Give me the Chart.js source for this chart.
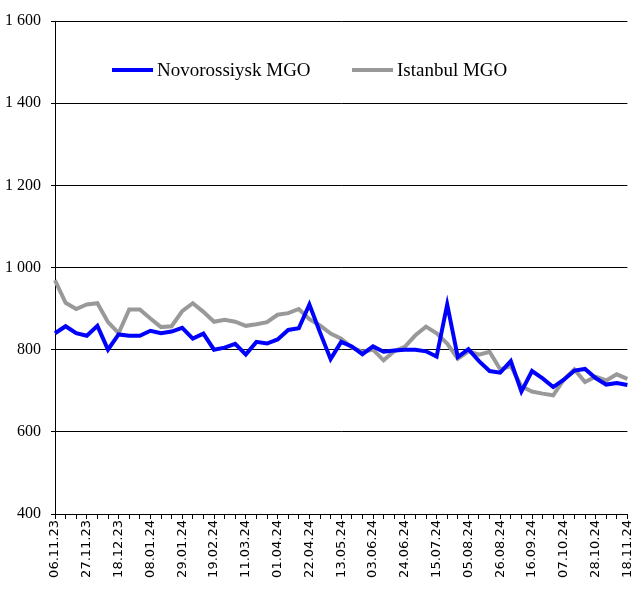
<!DOCTYPE html>
<html>
<head>
<meta charset="utf-8">
<script src="https://cdn.jsdelivr.net/npm/chart.js@4.4.1/dist/chart.umd.min.js"></script>
<style>
  body { margin: 0; background: #fff; }
  #wrap { position: relative; width: 644px; height: 595px; }
  #legend { position: absolute; top: 59px; left: 0; font-family: "Liberation Serif", "Times New Roman", serif; font-size: 19px; line-height: 22px; color: #000; }
  .item { position: absolute; white-space: nowrap; display: flex; align-items: center; height: 22px; }
  .swatch { display: inline-block; width: 41px; height: 4px; margin-right: 4px; }
</style>
</head>
<body>
<div id="wrap">
  <canvas id="chart"></canvas>
  <div id="legend"></div>
</div>
<script>
const dates = [
  "06.11.23", "13.11.23", "20.11.23", "27.11.23", "04.12.23", "11.12.23", "18.12.23",
  "25.12.23", "01.01.24", "08.01.24", "15.01.24", "22.01.24", "29.01.24", "05.02.24",
  "12.02.24", "19.02.24", "26.02.24", "04.03.24", "11.03.24", "18.03.24", "25.03.24",
  "01.04.24", "08.04.24", "15.04.24", "22.04.24", "29.04.24", "06.05.24", "13.05.24",
  "20.05.24", "27.05.24", "03.06.24", "10.06.24", "17.06.24", "24.06.24", "01.07.24",
  "08.07.24", "15.07.24", "22.07.24", "29.07.24", "05.08.24", "12.08.24", "19.08.24",
  "26.08.24", "02.09.24", "09.09.24", "16.09.24", "23.09.24", "30.09.24", "07.10.24",
  "14.10.24", "21.10.24", "28.10.24", "04.11.24", "11.11.24", "18.11.24"
];

const novorossiysk = [
  840, 857, 840, 834, 858, 800, 837, 834, 834, 846, 840, 844, 853, 827,
  839, 800, 805, 814, 788, 819, 815, 825, 848, 852, 910, 842, 777, 819,
  808, 789, 808, 795, 798, 800, 800, 796, 783, 910, 782, 801, 772, 748,
  744, 772, 698, 748, 730, 709, 727, 749, 753, 731, 715, 719, 714
];

const istanbul = [
  969, 914, 899, 910, 913, 867, 840, 898, 898, 876, 855, 857, 894, 913,
  892, 868, 873, 868, 858, 862, 867, 885, 889, 899, 874, 859, 839, 827,
  805, 795, 800, 774, 796, 807, 835, 856, 840, 815, 778, 796, 788, 795,
  752, 760, 711, 698, 693, 689, 727, 752, 721, 734, 725, 740, 729
];

const yMin = 400, yMax = 1600, yStep = 200;

const ctx = document.getElementById('chart').getContext('2d');
const myChart = new Chart(ctx, {
  type: 'line',
  data: {
    labels: dates,
    datasets: [
      {
        label: 'Novorossiysk MGO',
        data: novorossiysk,
        borderColor: '#0000FF',
        backgroundColor: '#0000FF',
        borderWidth: 4,
        pointRadius: 0,
        tension: 0
      },
      {
        label: 'Istanbul MGO',
        data: istanbul,
        borderColor: '#999999',
        backgroundColor: '#999999',
        borderWidth: 4,
        pointRadius: 0,
        tension: 0
      }
    ]
  },
  options: {
    responsive: true,
    maintainAspectRatio: false,
    animation: false,
    layout: { padding: { top: 21, right: 12, bottom: 0, left: 0 } },
    plugins: {
      legend: { display: false },
      tooltip: { enabled: false }
    },
    scales: {
      x: {
        offset: false,
        grid: { drawOnChartArea: false, color: '#000', tickLength: 5, lineWidth: 1 },
        border: { color: '#000', width: 1 },
        ticks: {
          autoSkip: false,
          minRotation: 90,
          maxRotation: 90,
          padding: 1,
          color: '#000',
          font: { family: 'DejaVu Sans', size: 13 },
          callback: function(value, index) {
            return index % 3 === 0 ? dates[index] : '';
          }
        },
        afterFit: function(scale) { scale.height = 81; }
      },
      y: {
        min: yMin,
        max: yMax,
        grid: { color: '#000', lineWidth: 1, tickLength: 4 },
        border: { color: '#000', width: 1 },
        ticks: {
          stepSize: yStep,
          padding: 10,
          color: '#000',
          font: { family: 'Liberation Serif', size: 16 },
          callback: function(value) {
            return String(value).replace(/\B(?=(\d{3})+(?!\d))/g, ' ');
          }
        },
        afterFit: function(scale) { scale.width = 55; }
      }
    }
  }
});

// legend inside the plot, like the original
const legend = document.getElementById('legend');
const legendX = [112, 352];
myChart.data.datasets.forEach((ds, i) => {
  const item = document.createElement('div');
  item.className = 'item';
  item.style.left = legendX[i] + 'px';
  item.innerHTML = '<span class="swatch" style="background:' + ds.borderColor + '"></span>' + ds.label;
  legend.appendChild(item);
});
</script>
</body>
</html>
